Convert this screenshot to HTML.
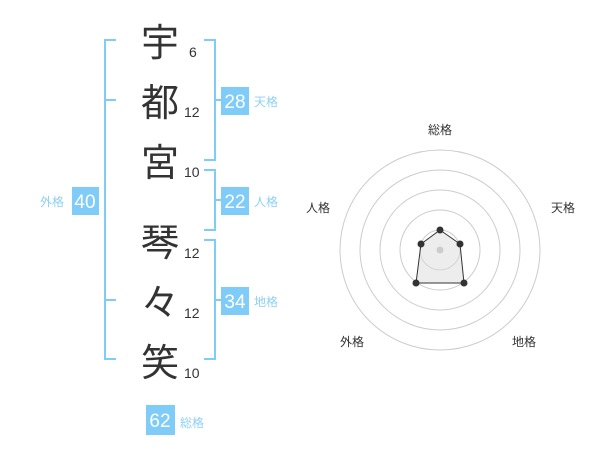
<!DOCTYPE html>
<html><head><meta charset="utf-8"><style>
html,body{margin:0;padding:0;background:#fff;}
svg{display:block;}
.k{font-family:"Liberation Sans","Noto Sans CJK JP",sans-serif;font-size:38px;fill:#333;text-anchor:middle;}
.n{font-family:"Liberation Sans",sans-serif;font-size:14px;fill:#333;}
.b{font-family:"Liberation Sans",sans-serif;font-size:19px;fill:#fff;text-anchor:middle;}
.l{font-family:"Liberation Sans","Noto Sans CJK JP",sans-serif;font-size:12px;fill:#8dd0f5;}
.r{font-family:"Liberation Sans","Noto Sans CJK JP",sans-serif;font-size:12px;fill:#333;text-anchor:middle;}
</style></head><body>
<svg width="600" height="470" viewBox="0 0 600 470">
<g stroke="#80ccf8" stroke-width="2" fill="none">
<path d="M116 40H105V359H116M105 100H116M105 300H116"/>
<path d="M204 40H215V160H204M215 100H221"/>
<path d="M204 170H215V230H204M215 200H221"/>
<path d="M204 240H215V359H204M215 300H221"/>
</g>
<text class="k" x="160" y="56">宇</text>
<text class="k" x="160" y="116">都</text>
<text class="k" x="160" y="176">宮</text>
<text class="k" x="160" y="256">琴</text>
<text class="k" x="160" y="316">々</text>
<text class="k" x="160" y="376">笑</text>
<text class="n" x="189" y="57">6</text>
<text class="n" x="184" y="117">12</text>
<text class="n" x="184" y="177">10</text>
<text class="n" x="184" y="258">12</text>
<text class="n" x="184" y="318">12</text>
<text class="n" x="184" y="378">10</text>
<g fill="#80ccf8">
<rect x="221" y="87" width="28" height="28"/>
<rect x="72" y="187" width="27" height="28"/>
<rect x="221" y="187" width="28" height="28"/>
<rect x="221" y="287" width="28" height="28"/>
<rect x="146" y="405" width="29" height="30"/>
</g>
<text class="b" x="235" y="108">28</text>
<text class="b" x="85" y="208">40</text>
<text class="b" x="235" y="208">22</text>
<text class="b" x="235" y="308">34</text>
<text class="b" x="160" y="427">62</text>
<text class="l" x="254" y="106">天格</text>
<text class="l" x="40" y="206">外格</text>
<text class="l" x="254" y="206">人格</text>
<text class="l" x="254" y="306">地格</text>
<text class="l" x="180" y="427">総格</text>
<g fill="none" stroke="#ccc" stroke-width="1">
<circle cx="440" cy="250" r="100"/>
<circle cx="440" cy="250" r="80"/>
<circle cx="440" cy="250" r="60"/>
<circle cx="440" cy="250" r="40"/>
<circle cx="440" cy="250" r="20"/>
</g>
<polygon points="440,230 460,244 464,283 416,283 421,244" fill="rgba(220,220,220,0.5)" stroke="#333" stroke-width="1"/>
<circle cx="440" cy="250" r="3.5" fill="#ccc"/>
<g fill="#333">
<circle cx="440" cy="230" r="3.5"/><circle cx="460" cy="244" r="3.5"/>
<circle cx="464" cy="283" r="3.5"/><circle cx="416" cy="283" r="3.5"/>
<circle cx="421" cy="244" r="3.5"/>
</g>
<text class="r" x="440" y="134">総格</text>
<text class="r" x="563" y="212">天格</text>
<text class="r" x="318" y="212">人格</text>
<text class="r" x="352" y="346">外格</text>
<text class="r" x="524" y="346">地格</text>
</svg>
</body></html>
